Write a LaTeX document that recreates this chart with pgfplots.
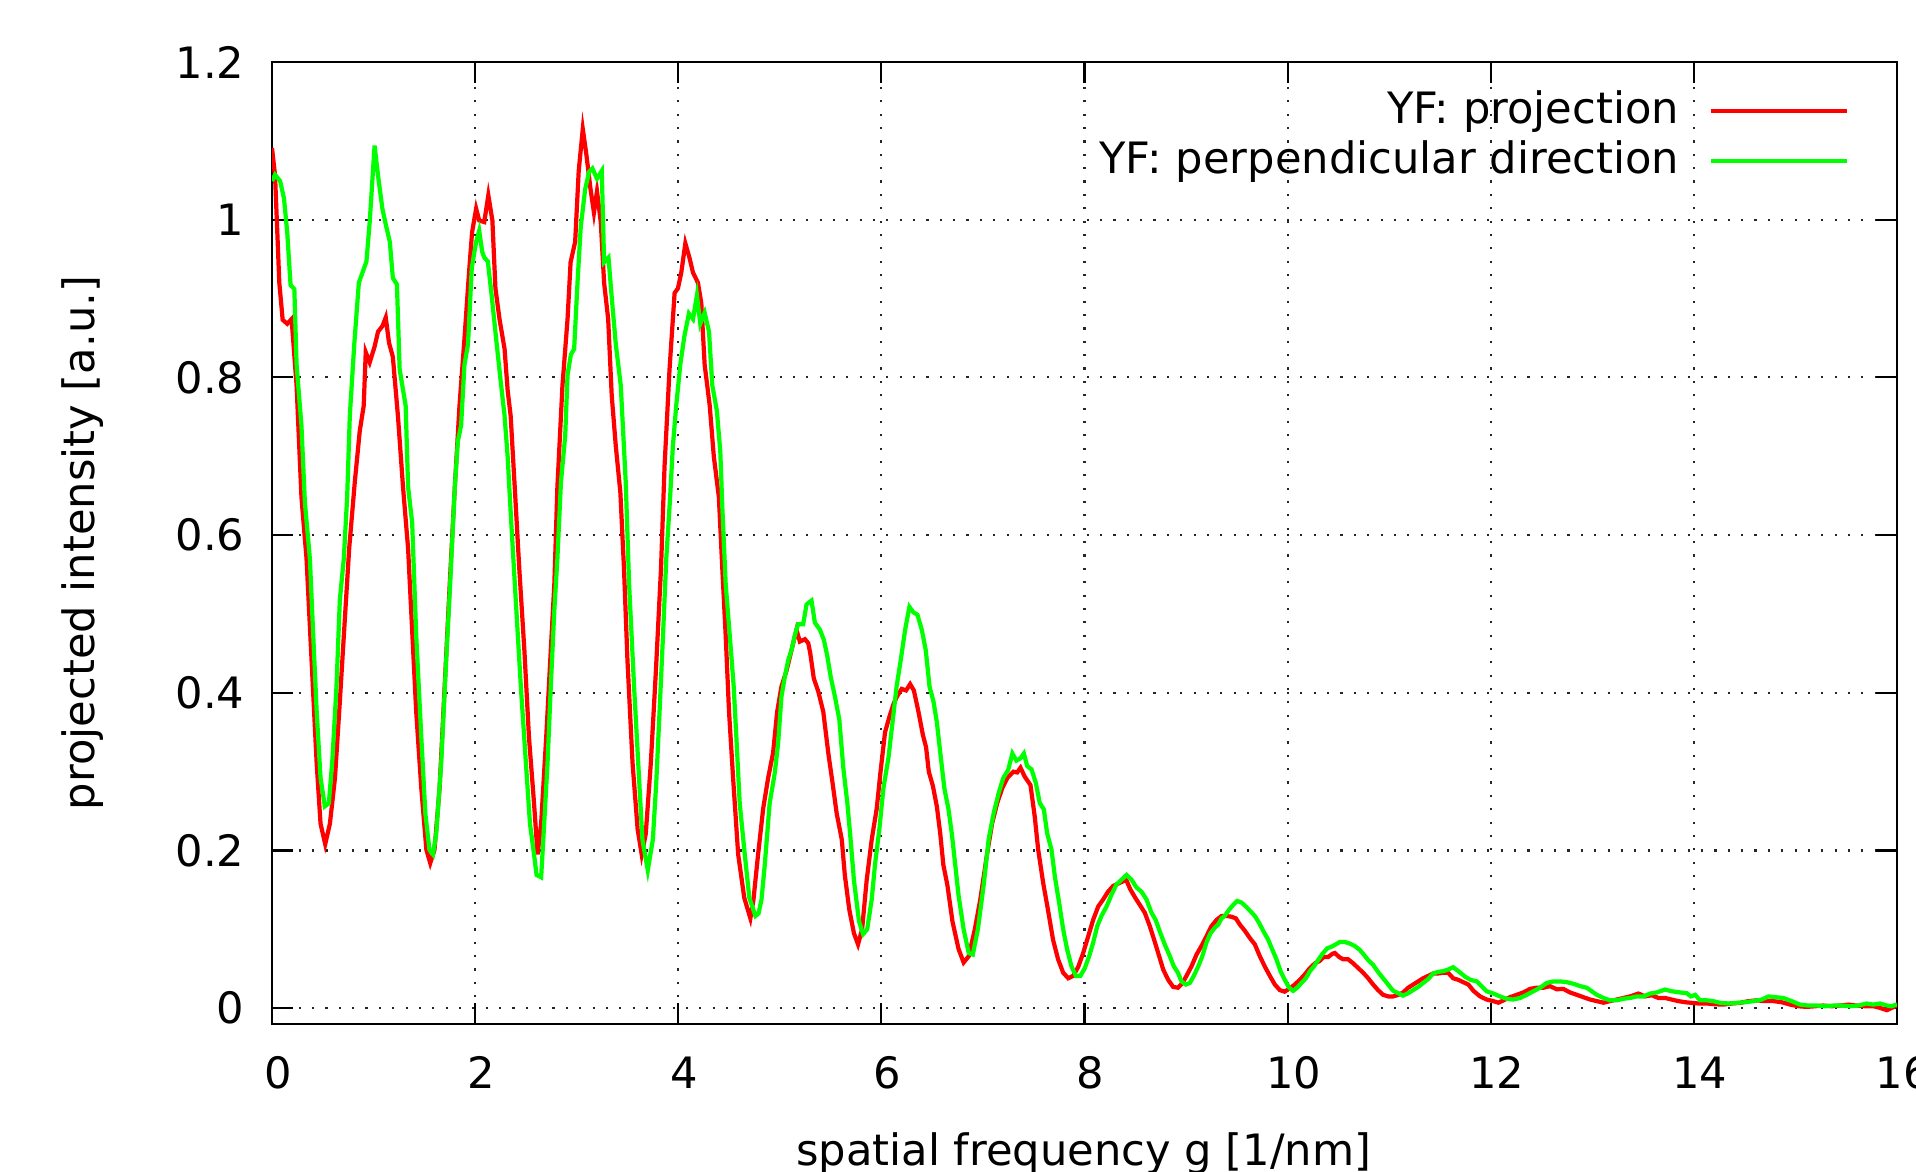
\documentclass[border=0pt]{standalone}
\usepackage{fontspec}
\setmainfont{DejaVu Sans}
\usepackage{pgfplots}
\pgfplotsset{compat=1.18}
\definecolor{gpred}{RGB}{255,0,0}
\definecolor{gpgreen}{RGB}{0,255,0}
\begin{document}
\fontsize{12.3pt}{14.8pt}\selectfont
\begin{tikzpicture}
\begin{axis}[
  at={(2.72cm,1.48cm)}, anchor=south west,
  scale only axis, width=16.25cm, height=9.62cm,
  xmin=0, xmax=16, ymin=-0.02, ymax=1.2,
  xtick={0,2,4,6,8,10,12,14,16},
  ytick={0,0.2,0.4,0.6,0.8,1,1.2},
  /pgf/number format/assume math mode=true,
  tick align=inside,
  major tick length=0.21cm,
  tick style={black, line width=0.6pt},
  axis line style={black, line width=0.6pt},
  grid=major,
  grid style={black!85, line width=0.6pt, dash pattern=on 0.6pt off 3.2pt},
  xticklabel style={anchor=base, yshift=-0.65cm, xshift=0.06cm},
  yticklabel style={anchor=east, inner sep=0pt, xshift=-0.27cm},
  every axis x label/.style={at={(axis description cs:0.4995,-0.1476)}, anchor=base},
  every axis y label/.style={at={(axis description cs:-0.1095,0.5)}, anchor=base, rotate=90},
  xlabel={spatial frequency g [1/nm]},
  ylabel={projected intensity [a.u.]},
  legend plot pos=right,
  legend cell align=right,
  legend style={draw=none, fill=none, at={(0.9711,0.9699)}, anchor=north east,
    inner sep=0pt, row sep=0.08cm, column sep=0.3cm,
    nodes={inner sep=0pt, text height=0.32cm, text depth=0.1cm}},
  legend image code/.code={\draw[#1] (0cm,0.02cm) -- (1.36cm,0.02cm);},
]
\addplot[gpred, line width=1.2pt] coordinates {
(0,1.091)(0.03,1.056)(0.072,0.92)(0.105,0.873)(0.15,0.868)(0.193,0.874)(0.242,0.79)(0.29,0.648)(0.34,0.57)(0.39,0.44)
(0.44,0.31)(0.478,0.234)(0.524,0.208)(0.57,0.234)(0.62,0.292)(0.668,0.389)(0.717,0.493)(0.76,0.583)(0.815,0.667)(0.864,0.732)
(0.903,0.764)(0.923,0.832)(0.962,0.819)(1.01,0.839)(1.044,0.858)(1.087,0.865)(1.12,0.876)(1.152,0.844)(1.19,0.826)(1.24,0.751)
(1.29,0.661)(1.34,0.583)(1.37,0.505)(1.42,0.376)(1.47,0.279)(1.52,0.201)(1.558,0.184)(1.6,0.201)(1.65,0.279)(1.7,0.408)
(1.75,0.538)(1.8,0.661)(1.846,0.764)(1.895,0.849)(1.94,0.933)(1.97,0.984)(2.01,1.014)(2.04,0.999)(2.09,0.997)(2.13,1.031)
(2.17,0.999)(2.2,0.913)(2.24,0.874)(2.29,0.836)(2.32,0.784)(2.35,0.751)(2.39,0.661)(2.435,0.557)(2.485,0.454)(2.53,0.344)
(2.58,0.26)(2.615,0.195)(2.65,0.234)(2.70,0.344)(2.745,0.454)(2.78,0.538)(2.81,0.661)(2.86,0.79)(2.91,0.874)(2.94,0.946)
(2.985,0.972)(3.02,1.062)(3.06,1.115)(3.096,1.082)(3.136,1.039)(3.17,1.009)(3.2,1.036)(3.237,0.997)(3.27,0.92)(3.31,0.874)
(3.345,0.777)(3.385,0.713)(3.43,0.654)(3.466,0.557)(3.5,0.441)(3.55,0.311)(3.6,0.227)(3.64,0.195)(3.68,0.221)(3.73,0.311)
(3.78,0.428)(3.83,0.557)(3.865,0.687)(3.914,0.81)(3.964,0.907)(3.997,0.913)(4.03,0.933)(4.07,0.97)(4.11,0.952)(4.145,0.933)
(4.194,0.92)(4.227,0.894)(4.26,0.816)(4.31,0.764)(4.35,0.7)(4.4,0.648)(4.434,0.557)(4.467,0.473)(4.5,0.376)(4.54,0.292)
(4.59,0.195)(4.65,0.14)(4.71,0.114)(4.74,0.137)(4.786,0.195)(4.836,0.253)(4.885,0.292)(4.934,0.324)(4.974,0.376)(5.016,0.408)
(5.066,0.428)(5.115,0.454)(5.164,0.48)(5.197,0.465)(5.247,0.468)(5.28,0.463)(5.3,0.45)(5.335,0.418)(5.378,0.402)(5.428,0.376)
(5.477,0.324)(5.52,0.285)(5.56,0.247)(5.61,0.214)(5.64,0.169)(5.684,0.125)(5.73,0.095)(5.77,0.081)(5.81,0.1)(5.855,0.162)
(5.905,0.214)(5.954,0.253)(5.99,0.298)(6.036,0.35)(6.08,0.37)(6.12,0.386)(6.157,0.396)(6.2,0.405)(6.243,0.403)(6.283,0.411)
(6.32,0.403)(6.365,0.376)(6.408,0.347)(6.44,0.331)(6.467,0.3)(6.507,0.282)(6.546,0.256)(6.58,0.221)(6.61,0.182)(6.65,0.156)
(6.7,0.11)(6.76,0.075)(6.81,0.058)(6.86,0.066)(6.92,0.1)(6.974,0.138)(7.04,0.195)(7.09,0.234)(7.14,0.26)(7.19,0.279)
(7.24,0.292)(7.3,0.3)(7.337,0.299)(7.37,0.305)(7.41,0.294)(7.468,0.283)(7.51,0.243)(7.544,0.201)(7.593,0.159)(7.64,0.125)
(7.69,0.087)(7.74,0.062)(7.79,0.045)(7.84,0.038)(7.888,0.041)(7.94,0.053)(7.987,0.07)(8.036,0.091)(8.085,0.112)(8.135,0.129)
(8.184,0.138)(8.233,0.148)(8.282,0.155)(8.33,0.158)(8.38,0.161)(8.41,0.163)(8.45,0.151)(8.5,0.14)(8.545,0.131)(8.594,0.121)
(8.643,0.104)(8.69,0.085)(8.735,0.066)(8.775,0.049)(8.824,0.036)(8.873,0.027)(8.92,0.026)(8.965,0.032)(9.004,0.041)(9.053,0.053)
(9.103,0.068)(9.152,0.079)(9.2,0.091)(9.25,0.104)(9.3,0.112)(9.35,0.117)(9.4,0.117)(9.447,0.116)(9.49,0.114)(9.53,0.106)
(9.58,0.098)(9.628,0.089)(9.677,0.081)(9.726,0.066)(9.775,0.053)(9.825,0.041)(9.874,0.03)(9.923,0.023)(9.97,0.021)(10.02,0.025)
(10.07,0.03)(10.12,0.036)(10.17,0.043)(10.22,0.051)(10.27,0.057)(10.317,0.06)(10.356,0.065)(10.4,0.065)(10.44,0.069)(10.465,0.07)
(10.507,0.065)(10.547,0.062)(10.596,0.062)(10.645,0.057)(10.694,0.051)(10.744,0.045)(10.793,0.038)(10.842,0.03)(10.89,0.023)(10.94,0.017)
(10.99,0.015)(11.04,0.015)(11.09,0.017)(11.137,0.02)(11.187,0.026)(11.236,0.03)(11.285,0.034)(11.334,0.038)(11.384,0.041)(11.433,0.044)
(11.48,0.044)(11.53,0.045)(11.58,0.045)(11.63,0.038)(11.68,0.036)(11.73,0.033)(11.78,0.03)(11.83,0.022)(11.895,0.015)(11.96,0.011)
(12.026,0.009)(12.075,0.007)(12.125,0.01)(12.19,0.014)(12.256,0.017)(12.32,0.02)(12.387,0.0245)(12.45,0.026)(12.52,0.026)(12.584,0.028)
(12.65,0.024)(12.715,0.0245)(12.78,0.02)(12.847,0.017)(12.912,0.014)(12.978,0.011)(13.044,0.009)(13.11,0.007)(13.175,0.009)(13.24,0.011)
(13.306,0.013)(13.372,0.015)(13.454,0.0186)(13.52,0.015)(13.585,0.0165)(13.65,0.013)(13.716,0.013)(13.782,0.011)(13.848,0.009)(13.913,0.0076)
(13.98,0.0068)(14.045,0.006)(14.127,0.006)(14.21,0.005)(14.29,0.0046)(14.373,0.006)(14.455,0.0068)(14.537,0.009)(14.62,0.01)(14.7,0.009)
(14.783,0.009)(14.865,0.0076)(14.947,0.0046)(15.03,0.0025)(15.11,0.0017)(15.193,0.0025)(15.275,0.0034)(15.357,0.0025)(15.44,0.0034)(15.52,0.0046)
(15.6,0.0034)(15.686,0.0025)(15.77,0.0025)(15.833,0.0004)(15.9,-0.0025)(15.948,0.0004)(16,0.0034)
};
\addlegendentry{YF: projection}
\addplot[gpgreen, line width=1.2pt] coordinates {
(0,1.049)(0.03,1.057)(0.08,1.049)(0.118,1.027)(0.15,0.984)(0.183,0.917)(0.22,0.912)(0.242,0.816)(0.29,0.739)(0.324,0.641)
(0.373,0.57)(0.406,0.473)(0.44,0.376)(0.478,0.292)(0.52,0.256)(0.56,0.26)(0.596,0.318)(0.635,0.408)(0.668,0.518)(0.707,0.57)
(0.74,0.648)(0.766,0.751)(0.81,0.842)(0.855,0.92)(0.93,0.947)(0.962,0.997)(1.01,1.094)(1.044,1.056)(1.087,1.014)(1.12,0.994)
(1.16,0.972)(1.19,0.926)(1.23,0.918)(1.257,0.81)(1.316,0.764)(1.34,0.661)(1.38,0.616)(1.42,0.473)(1.47,0.344)(1.51,0.247)
(1.55,0.201)(1.585,0.195)(1.617,0.221)(1.666,0.311)(1.715,0.441)(1.754,0.538)(1.8,0.661)(1.83,0.719)(1.862,0.739)(1.895,0.816)
(1.93,0.842)(1.967,0.939)(2.01,0.972)(2.04,0.986)(2.07,0.959)(2.09,0.952)(2.125,0.947)(2.16,0.907)(2.207,0.849)(2.245,0.803)
(2.29,0.751)(2.32,0.7)(2.353,0.622)(2.4,0.518)(2.45,0.408)(2.5,0.311)(2.54,0.234)(2.58,0.195)(2.605,0.169)(2.65,0.166)
(2.68,0.234)(2.713,0.311)(2.745,0.408)(2.78,0.505)(2.81,0.57)(2.845,0.667)(2.887,0.726)(2.91,0.803)(2.943,0.829)(2.975,0.836)
(3.008,0.92)(3.04,0.991)(3.084,1.039)(3.123,1.061)(3.155,1.065)(3.2,1.052)(3.247,1.062)(3.27,0.946)(3.313,0.952)(3.35,0.894)
(3.385,0.842)(3.434,0.79)(3.483,0.667)(3.516,0.538)(3.565,0.408)(3.614,0.292)(3.647,0.214)(3.7,0.175)(3.75,0.214)(3.783,0.285)
(3.816,0.376)(3.85,0.473)(3.882,0.57)(3.92,0.648)(3.947,0.713)(3.98,0.764)(4.02,0.816)(4.06,0.852)(4.105,0.881)(4.145,0.874)
(4.184,0.904)(4.217,0.868)(4.26,0.882)(4.303,0.858)(4.335,0.79)(4.38,0.758)(4.414,0.706)(4.434,0.635)(4.467,0.538)(4.507,0.473)
(4.546,0.408)(4.572,0.344)(4.605,0.26)(4.655,0.195)(4.7,0.14)(4.76,0.117)(4.79,0.12)(4.82,0.138)(4.852,0.182)(4.9,0.26)
(4.95,0.298)(4.984,0.337)(5.016,0.395)(5.05,0.421)(5.082,0.441)(5.115,0.454)(5.148,0.473)(5.18,0.487)(5.23,0.487)(5.263,0.512)
(5.312,0.517)(5.345,0.489)(5.395,0.48)(5.434,0.467)(5.467,0.447)(5.5,0.421)(5.543,0.395)(5.586,0.366)(5.625,0.305)(5.665,0.26)
(5.697,0.214)(5.73,0.162)(5.78,0.11)(5.82,0.094)(5.86,0.1)(5.905,0.138)(5.937,0.182)(5.98,0.227)(6.02,0.279)(6.07,0.318)
(6.11,0.363)(6.15,0.408)(6.19,0.441)(6.234,0.48)(6.276,0.509)(6.316,0.502)(6.355,0.499)(6.398,0.48)(6.437,0.454)(6.474,0.408)
(6.513,0.389)(6.546,0.363)(6.58,0.324)(6.62,0.279)(6.66,0.253)(6.694,0.221)(6.727,0.182)(6.76,0.143)(6.81,0.1)(6.86,0.07)
(6.9,0.068)(6.95,0.1)(7.007,0.156)(7.056,0.214)(7.105,0.247)(7.155,0.273)(7.2,0.292)(7.248,0.302)(7.29,0.323)(7.33,0.314)
(7.37,0.317)(7.403,0.323)(7.436,0.307)(7.478,0.303)(7.52,0.286)(7.56,0.26)(7.6,0.252)(7.632,0.222)(7.675,0.201)(7.708,0.167)
(7.75,0.134)(7.79,0.1)(7.83,0.074)(7.872,0.053)(7.915,0.041)(7.96,0.041)(8.003,0.051)(8.046,0.066)(8.085,0.083)(8.125,0.104)
(8.167,0.117)(8.217,0.129)(8.266,0.144)(8.315,0.157)(8.364,0.163)(8.414,0.169)(8.463,0.163)(8.512,0.153)(8.56,0.148)(8.61,0.138)
(8.66,0.121)(8.7,0.112)(8.748,0.095)(8.79,0.081)(8.84,0.066)(8.88,0.053)(8.92,0.045)(8.955,0.034)(8.998,0.03)(9.037,0.032)
(9.076,0.041)(9.12,0.053)(9.16,0.066)(9.2,0.083)(9.24,0.095)(9.283,0.102)(9.316,0.106)(9.35,0.114)(9.38,0.117)(9.424,0.125)
(9.464,0.131)(9.503,0.136)(9.546,0.134)(9.588,0.129)(9.634,0.123)(9.677,0.117)(9.72,0.108)(9.76,0.098)(9.808,0.087)(9.85,0.074)
(9.89,0.062)(9.93,0.047)(9.972,0.036)(10.015,0.026)(10.054,0.022)(10.094,0.026)(10.136,0.032)(10.18,0.038)(10.22,0.047)(10.258,0.053)
(10.3,0.061)(10.343,0.069)(10.39,0.076)(10.432,0.078)(10.475,0.081)(10.514,0.084)(10.563,0.084)(10.612,0.082)(10.66,0.079)(10.71,0.074)
(10.75,0.068)(10.793,0.061)(10.842,0.055)(10.89,0.046)(10.94,0.038)(10.99,0.03)(11.04,0.022)(11.09,0.019)(11.137,0.016)(11.187,0.019)
(11.236,0.023)(11.285,0.027)(11.334,0.032)(11.384,0.037)(11.433,0.044)(11.48,0.046)(11.53,0.047)(11.58,0.049)(11.63,0.052)(11.67,0.048)
(11.71,0.044)(11.747,0.04)(11.8,0.036)(11.862,0.034)(11.91,0.028)(11.96,0.0215)(12.026,0.0186)(12.09,0.015)(12.157,0.012)(12.22,0.011)
(12.29,0.013)(12.354,0.017)(12.42,0.0215)(12.486,0.026)(12.55,0.032)(12.617,0.034)(12.683,0.034)(12.75,0.033)(12.814,0.031)(12.88,0.028)
(12.945,0.026)(12.994,0.0215)(13.044,0.017)(13.11,0.013)(13.175,0.01)(13.24,0.01)(13.306,0.012)(13.372,0.013)(13.438,0.015)(13.503,0.015)
(13.57,0.0186)(13.634,0.02)(13.716,0.0237)(13.782,0.0215)(13.864,0.02)(13.93,0.019)(13.97,0.015)(14.012,0.017)(14.06,0.01)(14.127,0.01)
(14.19,0.009)(14.26,0.0068)(14.34,0.006)(14.42,0.0068)(14.505,0.0076)(14.586,0.009)(14.668,0.011)(14.734,0.015)(14.8,0.014)(14.88,0.013)
(14.963,0.009)(15.045,0.0046)(15.127,0.0034)(15.21,0.0034)(15.29,0.0025)(15.374,0.0034)(15.455,0.0034)(15.538,0.0025)(15.62,0.0034)(15.7,0.006)
(15.767,0.0046)(15.833,0.006)(15.9,0.0034)(15.948,0.0025)(16,0.005)
};
\addlegendentry{YF: perpendicular direction}
\end{axis}
\pgfresetboundingbox
\useasboundingbox (0,0) rectangle (19.16,11.72);
\end{tikzpicture}
\end{document}
